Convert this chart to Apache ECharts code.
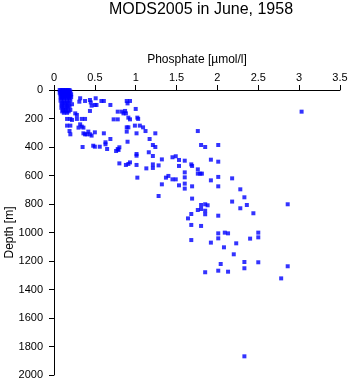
<!DOCTYPE html>
<html>
<head>
<meta charset="utf-8">
<script src="https://cdn.jsdelivr.net/npm/echarts@6/dist/echarts.min.js"></script>
<style>
html,body{margin:0;padding:0;background:#fff;}
#chart{width:350px;height:384px;}
</style>
</head>
<body>
<div id="chart"></div>
<script>
var titleText = "MODS2005 in June, 1958";
var xName = "Phosphate [\u00b5mol/l]";
var yName = "Depth [m]";
var xTicks = [0, 0.5, 1, 1.5, 2, 2.5, 3, 3.5];
var yTicks = [0, 200, 400, 600, 800, 1000, 1200, 1400, 1600, 1800, 2000];

// phosphate (µmol/l)
var phosphate = [
  0.07,0.09,0.11,0.13,0.15,0.17,0.19,
  0.08,0.10,0.12,0.14,0.16,0.18,0.20,
  0.07,0.09,0.11,0.13,0.15,0.17,0.19,
  0.08,0.10,0.12,0.14,0.16,0.18,0.21,
  0.09,0.11,0.13,0.15,0.17,0.20,
  0.08,0.10,0.12,0.15,0.18,0.21,
  0.09,0.12,0.16,0.19,
  0.08,0.12,0.16,0.20,
  0.10,0.14,0.18,
  0.09,0.13,0.17,0.22,
  0.10,0.15,0.19,
  0.09,0.13,0.17,
  0.11,0.15,0.20,
  0.10,0.14,0.18,
  0.12,0.16,
  0.32,0.31,0.38,0.44,0.45,0.51,0.58,0.61,0.69,0.89,0.90,0.93,0.44,0.46,0.50,0.52,
  0.26,0.28,0.83,0.87,0.85,0.88,0.78,1.00,0.16,0.20,0.22,0.28,0.34,0.38,0.73,0.78,
  0.91,0.93,1.02,1.03,0.16,0.20,0.32,0.34,0.36,0.30,0.89,0.91,0.99,1.05,1.09,0.19,
  0.42,0.50,0.61,0.89,1.01,1.12,0.20,0.36,0.38,0.40,0.44,0.46,0.69,0.90,1.17,0.63,
  0.63,0.56,0.48,0.50,0.35,0.65,0.78,0.80,0.79,0.76,1.01,1.01,1.16,0.80,0.91,0.93,
  0.88,1.01,1.13,1.02,
  3.03,1.76,1.24,1.21,1.24,1.80,1.85,2.01,1.21,1.32,1.45,1.49,1.53,1.60,1.92,2.01,
  1.21,1.28,1.21,1.53,1.68,1.69,1.76,1.79,1.76,1.81,1.60,1.60,1.40,1.37,1.45,1.49,
  1.92,2.01,2.01,2.18,1.32,1.53,1.60,1.60,1.69,2.28,2.33,1.28,1.69,2.18,
  1.80,1.85,1.88,1.76,1.80,1.85,1.68,1.85,1.64,1.68,1.80,2.01,2.28,2.36,2.44,2.86,
  1.68,1.92,2.01,2.01,2.09,2.13,2.08,2.23,2.20,2.40,2.50,2.50,2.50,2.86,2.78,2.33,
  2.33,2.04,2.01,2.13,1.85,2.33
];

// depth (m)
var depth = [
  0,0,0,0,0,0,0,
  10,10,10,10,10,10,10,
  20,20,20,20,20,20,20,
  30,30,30,30,30,30,30,
  40,40,40,40,40,40,
  50,50,50,50,50,50,
  60,60,60,60,
  75,75,75,75,
  90,90,90,
  100,100,100,100,
  115,115,115,
  125,125,125,
  140,140,140,
  150,150,150,
  160,160,
  58,82,77,70,87,58,77,77,105,77,94,77,147,110,105,105,
  164,175,152,147,164,164,152,133,203,203,210,203,203,203,206,206,
  194,206,194,203,250,250,241,257,264,264,262,262,250,250,262,288,
  292,297,304,292,304,288,311,304,311,311,311,320,344,363,344,367,
  381,398,391,398,400,414,414,402,421,428,449,461,437,515,519,508,
  526,526,550,615,
  152,288,304,386,400,386,400,386,463,487,472,465,491,496,489,503,
  522,529,547,533,522,533,557,587,587,587,578,613,603,615,627,627,
  634,610,676,620,662,669,657,692,676,697,753,744,762,783,
  807,802,809,842,835,847,870,872,901,947,954,882,830,807,865,802,
  1053,1071,1006,1041,1001,1006,1104,1076,1153,1043,1001,1034,1209,1237,1322,1207,
  1251,1221,1268,1275,1279,1869
];

var points = [];
for (var i = 0; i < phosphate.length; i++) {
  points.push([phosphate[i], depth[i]]);
}

var font = "'Liberation Sans', Arial, Helvetica, sans-serif";
var chart = echarts.init(document.getElementById('chart'), null, {renderer: 'canvas'});
chart.setOption({
  animation: false,
  backgroundColor: '#ffffff',
  title: {
    text: titleText,
    left: 196,
    textAlign: 'center',
    top: -3,
    textStyle: {fontFamily: font, fontSize: 16, fontWeight: 'normal', color: '#000'}
  },
  grid: {left: 54, top: 90, width: 286, height: 285, containLabel: false, outerBoundsMode: 'none'},
  xAxis: {
    type: 'value',
    position: 'top',
    min: xTicks[0],
    max: xTicks[xTicks.length - 1],
    interval: 0.5,
    name: xName,
    nameLocation: 'middle',
    nameGap: 24,
    nameMoveOverlap: false,
    nameTextStyle: {fontFamily: font, fontSize: 12, color: '#000'},
    axisLine: {show: true, onZero: false, lineStyle: {color: '#000', width: 1}},
    axisTick: {show: true, inside: false, length: 5, lineStyle: {color: '#000'}},
    axisLabel: {fontFamily: font, fontSize: 11, color: '#000', margin: 7,
      formatter: function (v) { return String(v); }},
    splitLine: {show: false}
  },
  yAxis: {
    type: 'value',
    inverse: true,
    min: yTicks[0],
    max: yTicks[yTicks.length - 1],
    interval: 200,
    name: yName,
    nameLocation: 'middle',
    nameGap: 38,
    nameRotate: 90,
    nameMoveOverlap: false,
    nameTextStyle: {fontFamily: font, fontSize: 12, color: '#000'},
    axisLine: {show: true, onZero: false, lineStyle: {color: '#000', width: 1}},
    axisTick: {show: true, inside: false, length: 5, lineStyle: {color: '#000'}},
    axisLabel: {fontFamily: font, fontSize: 11, color: '#000', margin: 11,
      formatter: function (v) { return String(v); }},
    splitLine: {show: false}
  },
  series: [{
    type: 'scatter',
    data: points,
    symbol: 'rect',
    symbolSize: 4,
    itemStyle: {color: '#0000ff'},
    silent: true
  }]
});
</script>
</body>
</html>
